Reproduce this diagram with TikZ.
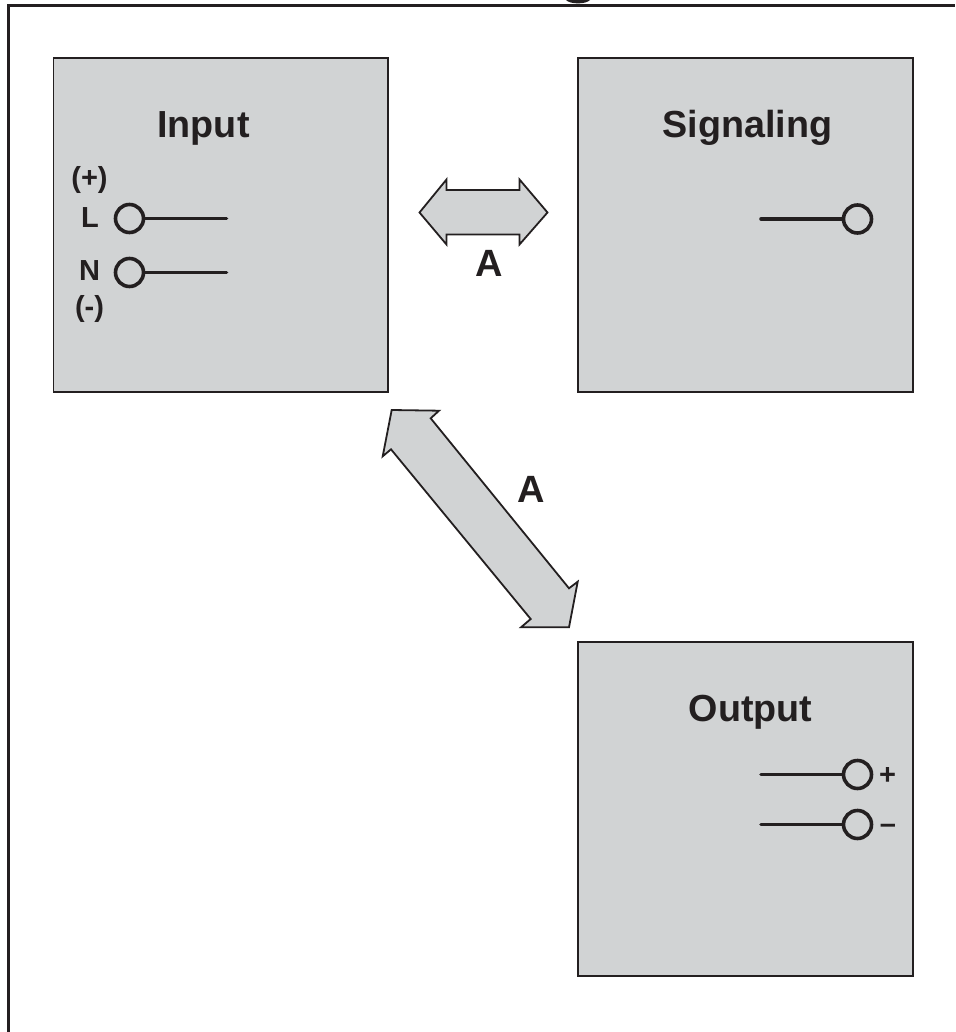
\documentclass[tikz,border=0pt]{standalone}
\usepackage{fontspec}
\setmainfont{Liberation Sans}
\definecolor{boxgray}{HTML}{D1D3D4}
\definecolor{ink}{HTML}{231F20}
\tikzset{
  x=1pt,y=-1pt,
  panel/.style={draw=ink,fill=boxgray,line width=1.6pt},
  dblarrow/.style={draw=ink,fill=boxgray,line width=1.8pt,line join=miter},
  title/.style={font=\bfseries\fontsize{37.7}{38}\selectfont,text=ink,inner sep=0pt,anchor=base},
  letter/.style={font=\bfseries\fontsize{38}{38}\selectfont,text=ink,inner sep=0pt,anchor=base},
  small/.style={font=\bfseries\fontsize{29}{29}\selectfont,text=ink,inner sep=0pt,anchor=base},
  terminal/.style={circle,draw=ink,line width=3.6pt,minimum size=28pt,inner sep=0pt},
  lead/.style={draw=ink,line width=3.6pt,line cap=round},
}
\begin{document}
\begin{tikzpicture}
\useasboundingbox (0,0) rectangle (955,1032);
% page frame and clipped title descender
\draw[ink,line width=3pt] (8,1032) -- (8,6) -- (955,6);
\fill[ink] (566,0) .. controls (570,4.5) and (586,4.5) .. (590,0) -- cycle;
% panels
\draw[panel] (53.5,58) rectangle (388,392);
\draw[panel] (578,58) rectangle (913,392);
\draw[panel] (578,642) rectangle (913,976);
% titles
\node[title] (tin) at (203.5,138) {Input};
\node[title] (tsig) at (747.5,138) {Signaling};
\node[title] (tout) at (750.5,721) {Output};
% input terminals
\node[terminal] (inL) at (129.5,218.5) {};
\node[terminal] (inN) at (129.5,272.5) {};
\coordinate (inLe) at (226.5,218.5);
\coordinate (inNe) at (226.5,272.5);
\draw[lead] (inL) -- (inLe);
\draw[lead] (inN) -- (inNe);
\node[small] (lp) at (89.5,187.5) {(+)};
\node[small] (lL) at (90,228) {L};
\node[small] (lN) at (89.5,280.5) {N};
\node[small] (lm) at (89.5,316.5) {(-)};
% signaling terminal
\node[terminal] (sg) at (857.5,219) {};
\coordinate (sge) at (761,219);
\draw[lead] (sg) -- (sge);
% output terminals
\node[terminal] (op) at (857.5,774.5) {};
\node[terminal] (om) at (857.5,824.5) {};
\coordinate (ope) at (761,774.5);
\coordinate (ome) at (761,824.5);
\draw[lead] (op) -- (ope);
\draw[lead] (om) -- (ome);
\node[small] (lplus) at (887.5,784) {+};
\node[small] (lminus) at (888,833) {–};
% double arrows
\draw[dblarrow] (419.5,212.5) -- (446.5,179.5) -- (446.5,190) -- (519.5,190) -- (519.5,179.5)
  -- (547.5,212.5) -- (519.5,244.5) -- (519.5,234.5) -- (446.5,234.5) -- (446.5,244.5) -- cycle;
\draw[dblarrow] (391.7,410) -- (439,410.7) -- (430.7,418.3) -- (569,588.3) -- (577.7,581.7)
  -- (569,627.3) -- (521,627.3) -- (530.7,619) -- (391,449.3) -- (382.7,456.3) -- cycle;
\node[letter] (a1) at (489.5,276.5) {A};
\node[letter] (a2) at (531,502.5) {A};
\end{tikzpicture}
\end{document}
